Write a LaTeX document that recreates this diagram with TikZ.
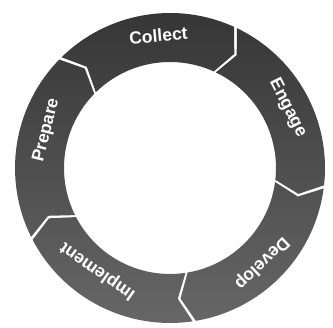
\documentclass[tikz,border=0pt]{standalone}
\usepackage{fontspec}
\setmainfont{Liberation Sans}
\usetikzlibrary{calc}
\definecolor{ringtop}{HTML}{343434}
\definecolor{ringmid}{HTML}{3C3C3C}
\definecolor{ringbot}{HTML}{686868}
\tikzset{
  lbl/.style={text=white, font=\bfseries\fontsize{17.5}{17.5}\selectfont, inner sep=0pt}
}
\begin{document}
\begin{tikzpicture}[x=1pt,y=1pt]
\useasboundingbox (0,0) rectangle (333,328);
\coordinate (C) at (170,160);
\def\Ro{155}
\def\Ri{106}
\def\Rm{131}
\def\dl{5}
\def\gp{0.6}
\shade[top color=ringtop, middle color=ringmid, bottom color=ringbot]
  \foreach \a/\b in {130/60,60/-12,-12/-86,-86/-158,-158/-230} {
    ($(C)+({\a+\dl-\gp}:\Ro)$) arc[start angle={\a+\dl-\gp}, end angle={\b+\dl+\gp}, radius=\Ro]
    -- ($(C)+({\b+\gp}:\Rm)$) -- ($(C)+({\b+\dl+\gp}:\Ri)$)
    arc[start angle={\b+\dl+\gp}, end angle={\a+\dl-\gp}, radius=\Ri]
    -- ($(C)+({\a-\gp}:\Rm)$) -- cycle
  };
\node[lbl, rotate=5]    (collect)   at ($(C)+(95:133)$)   {Collect};
\node[lbl, rotate=-63]  (engage)    at ($(C)+(27:132)$)   {Engage};
\node[lbl, rotate=-136] (develop)   at ($(C)+(-46:132)$)  {Develop};
\node[lbl, rotate=145]  (implement) at ($(C)+(-125:126)$) {Implement};
\node[lbl, rotate=76]   (prepare)   at ($(C)+(163:129)$)  {Prepare};
\end{tikzpicture}
\end{document}
